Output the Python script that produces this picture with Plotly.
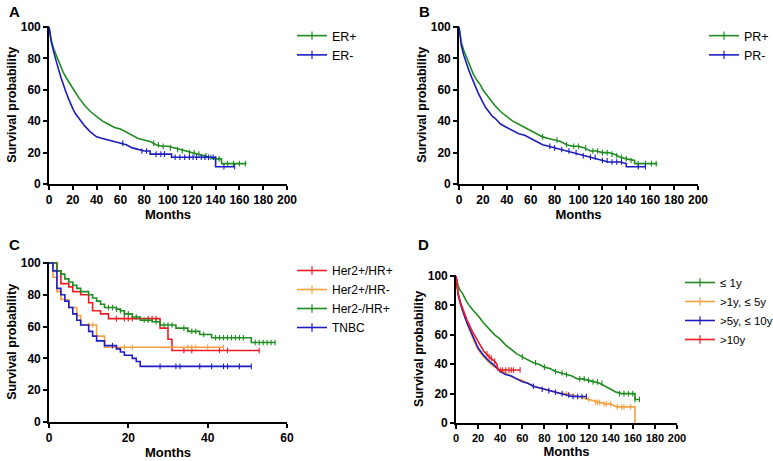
import plotly.graph_objects as go

# ---- Panel A: ER status ----
er_pos_t = [0, 2, 4, 6, 8, 10, 12, 15, 18, 20, 25, 30, 35, 40, 45, 50, 55, 60, 65, 70, 75, 80, 85, 90, 95,
            100, 105, 110, 115, 120, 125, 130, 135, 140, 145, 145, 150, 166]
er_pos_s = [100, 91, 86, 82, 78, 75, 71, 67, 63, 61, 55, 50, 46, 43, 40, 38, 36, 35, 33, 31, 29, 28, 27, 25, 24,
            24, 23, 22, 21, 20, 19, 18, 17, 16, 16, 13, 13, 13]
er_pos_ct = [88, 92, 96, 102, 108, 112, 118, 122, 126, 132, 136, 140, 143, 150, 155, 160, 165]
er_pos_cs = [26, 25, 24, 23, 22, 21, 20, 20, 19, 18, 17, 16, 16, 13, 13, 13, 13]

er_neg_t = [0, 2, 4, 6, 8, 10, 12, 14, 16, 18, 20, 22, 25, 28, 30, 35, 40, 45, 50, 55, 60, 65, 70, 75, 80,
            85, 85, 103, 103, 140, 140, 156]
er_neg_s = [100, 90, 84, 78, 73, 68, 63, 59, 55, 51, 48, 45, 42, 39, 37, 33, 30, 29, 28, 27, 26, 25, 23, 22, 21,
            21, 19, 19, 17, 17, 11, 11]
er_neg_ct = [62, 78, 82, 90, 94, 97, 106, 110, 114, 118, 121, 124, 128, 131, 134, 138, 147, 156]
er_neg_cs = [26, 21, 21, 19, 19, 19, 17, 17, 17, 17, 17, 17, 17, 17, 17, 17, 11, 11]

# ---- Panel B: PR status ----
pr_pos_t = [0, 2, 4, 6, 8, 10, 12, 15, 18, 20, 25, 30, 35, 40, 45, 50, 55, 60, 65, 70, 75, 80, 85, 90, 95,
            100, 105, 110, 115, 120, 125, 130, 135, 140, 145, 147, 147, 166]
pr_pos_s = [100, 90, 85, 81, 77, 73, 70, 66, 63, 60, 55, 50, 46, 43, 40, 38, 36, 34, 32, 30, 29, 28, 27, 25, 24,
            24, 23, 21, 21, 20, 20, 19, 17, 16, 15, 15, 13, 13]
pr_pos_ct = [70, 82, 90, 96, 100, 106, 112, 116, 120, 124, 128, 132, 136, 140, 144, 150, 156, 161, 165]
pr_pos_cs = [30, 28, 25, 24, 24, 23, 21, 21, 20, 20, 19, 18, 17, 16, 15, 13, 13, 13, 13]

pr_neg_t = [0, 2, 4, 6, 8, 10, 12, 14, 16, 18, 20, 22, 25, 28, 30, 35, 40, 45, 50, 55, 60, 65, 70, 75, 80,
            85, 90, 95, 100, 105, 110, 115, 120, 125, 130, 135, 140, 140, 156]
pr_neg_s = [100, 88, 82, 77, 73, 69, 65, 61, 58, 55, 52, 49, 46, 43, 42, 38, 36, 34, 32, 31, 29, 27, 25, 24, 23,
            22, 21, 20, 19, 18, 17, 16, 15, 14, 14, 14, 13, 11, 11]
pr_neg_ct = [76, 80, 86, 92, 98, 104, 110, 114, 120, 124, 128, 132, 136, 150, 156]
pr_neg_cs = [24, 23, 22, 21, 20, 18, 17, 17, 15, 15, 14, 14, 14, 11, 11]

# ---- Panel C: molecular subtypes (step curves) ----
her2p_hrp_t = [0, 2, 3, 5, 6, 8, 10, 11, 13, 15, 28, 30, 31, 53]
her2p_hrp_s = [100, 95, 87, 85, 82, 80, 75, 70, 68, 65, 59, 52, 45, 45]
her2p_hrp_ct = [17, 19, 20, 21, 25, 26, 27, 34, 36, 43, 45, 53]
her2p_hrp_cs = [65, 65, 65, 65, 65, 65, 65, 45, 45, 45, 45, 45]

her2p_hrn_t = [0, 1, 2, 3, 5, 7, 8, 12, 14, 44]
her2p_hrn_s = [100, 91, 82, 77, 72, 67, 61, 54, 47, 47]
her2p_hrn_ct = [10, 11, 19, 21, 35, 36, 37, 40, 44]
her2p_hrn_cs = [61, 61, 47, 47, 47, 47, 47, 47, 47]

her2n_hrp_t = [0, 2, 3, 4, 5, 6, 7, 8, 10, 11, 12, 13, 14, 17, 18, 19, 21, 23, 26, 28, 32, 35, 38, 41, 51, 57]
her2n_hrp_s = [100, 95, 93, 90, 88, 86, 84, 82, 80, 78, 76, 74, 72, 71, 70, 68, 66, 64, 63, 61, 59, 57, 55, 53,
               50, 50]
her2n_hrp_ct = [15, 16, 17, 18, 19, 20, 22, 24, 25, 27, 29, 30, 31, 34, 36, 37, 39, 42, 43, 44, 45, 46, 47, 48,
                49, 52, 53, 54, 55, 56, 57]
her2n_hrp_cs = [72, 72, 71, 70, 68, 68, 66, 64, 64, 63, 61, 61, 61, 59, 57, 57, 55, 53, 53, 53, 53, 53, 53, 53,
                53, 50, 50, 50, 50, 50, 50]

tnbc_t = [0, 1, 2, 3, 4, 5, 6, 7, 8, 10, 11, 12, 14, 17, 18, 19, 21, 22, 23, 51]
tnbc_s = [100, 95, 84, 80, 76, 72, 68, 64, 61, 57, 54, 51, 48, 46, 44, 42, 40, 38, 35, 35]
tnbc_ct = [16, 28, 32, 33, 38, 41, 44, 45, 48, 51]
tnbc_cs = [48, 35, 35, 35, 35, 35, 35, 35, 35, 35]

# ---- Panel D: time to metastasis ----
le1_t = [0, 2, 4, 6, 8, 10, 15, 20, 25, 30, 35, 40, 45, 50, 55, 60, 65, 70, 75, 80, 85, 90, 95, 100, 105, 110,
         115, 120, 125, 130, 135, 140, 145, 150, 155, 160, 162, 162, 166]
le1_s = [100, 93, 90, 88, 85, 82, 77, 73, 68, 64, 60, 57, 53, 50, 47, 45, 43, 41, 40, 38, 37, 35, 34, 33, 32, 30,
         30, 29, 28, 27, 25, 23, 21, 20, 20, 20, 20, 16, 16]
le1_ct = [60, 72, 80, 90, 96, 100, 112, 116, 120, 124, 128, 132, 148, 152, 156, 160, 162, 166]
le1_cs = [45, 41, 38, 35, 34, 33, 30, 30, 29, 28, 28, 27, 20, 20, 20, 20, 16, 16]

y1_5_t = [0, 2, 4, 6, 8, 10, 15, 20, 25, 30, 35, 40, 45, 50, 55, 60, 65, 70, 75, 80, 85, 90, 95, 100, 105, 110,
          115, 120, 125, 130, 135, 140, 145, 150, 155, 162, 162]
y1_5_s = [100, 88, 82, 77, 72, 68, 58, 50, 45, 41, 38, 36, 34, 32, 30, 29, 27, 25, 24, 23, 22, 21, 20, 20, 19, 18,
          17, 16, 15, 14, 13, 13, 11, 11, 11, 11, 0]
y1_5_ct = [100, 110, 120, 126, 128, 130, 134, 136, 140, 146, 150, 152, 158]
y1_5_cs = [20, 18, 16, 14, 14, 14, 13, 13, 13, 11, 11, 11, 11]

y5_10_t = [0, 2, 4, 6, 8, 10, 15, 20, 25, 30, 35, 40, 45, 50, 55, 60, 65, 70, 75, 80, 85, 90, 95, 100, 105, 118]
y5_10_s = [100, 87, 81, 76, 72, 68, 59, 51, 46, 42, 39, 35, 33, 32, 30, 28, 27, 25, 24, 23, 22, 21, 20, 19, 18, 18]
y5_10_ct = [70, 78, 84, 90, 96, 102, 106, 110, 114, 118]
y5_10_cs = [25, 23, 22, 21, 20, 19, 18, 18, 18, 18]

gt10_t = [0, 2, 4, 6, 8, 10, 15, 20, 25, 30, 35, 37, 38, 58]
gt10_s = [100, 88, 82, 78, 74, 70, 62, 55, 49, 45, 42, 40, 36, 36]
gt10_ct = [28, 30, 32, 35, 40, 42, 45, 48, 50, 52, 58]
gt10_cs = [47, 45, 44, 42, 36, 36, 36, 36, 36, 36, 36]

GREEN = "#1e8c1e"
BLUE = "#1c1cc0"
RED = "#ec1c24"
ORANGE = "#f7a040"
FONT = "Arial, Liberation Sans, sans-serif"

panels = [
    # (axis suffix, legend id, shape, curves)
    ("", "legend", "linear", [
        ("ER+", GREEN, er_pos_t, er_pos_s, er_pos_ct, er_pos_cs),
        ("ER-", BLUE, er_neg_t, er_neg_s, er_neg_ct, er_neg_cs),
    ]),
    ("2", "legend2", "linear", [
        ("PR+", GREEN, pr_pos_t, pr_pos_s, pr_pos_ct, pr_pos_cs),
        ("PR-", BLUE, pr_neg_t, pr_neg_s, pr_neg_ct, pr_neg_cs),
    ]),
    ("3", "legend3", "hv", [
        ("Her2+/HR+", RED, her2p_hrp_t, her2p_hrp_s, her2p_hrp_ct, her2p_hrp_cs),
        ("Her2+/HR-", ORANGE, her2p_hrn_t, her2p_hrn_s, her2p_hrn_ct, her2p_hrn_cs),
        ("Her2-/HR+", GREEN, her2n_hrp_t, her2n_hrp_s, her2n_hrp_ct, her2n_hrp_cs),
        ("TNBC", BLUE, tnbc_t, tnbc_s, tnbc_ct, tnbc_cs),
    ]),
    ("4", "legend4", "linear", [
        ("\u2264 1y", GREEN, le1_t, le1_s, le1_ct, le1_cs),
        (">1y, \u2264 5y", ORANGE, y1_5_t, y1_5_s, y1_5_ct, y1_5_cs),
        (">5y, \u2264 10y", BLUE, y5_10_t, y5_10_s, y5_10_ct, y5_10_cs),
        (">10y", RED, gt10_t, gt10_s, gt10_ct, gt10_cs),
    ]),
]

fig = go.Figure()

for suffix, leg, shape, curves in panels:
    xa, ya = "x" + suffix, "y" + suffix
    for name, color, t, s, ct, cs in curves:
        fig.add_trace(go.Scatter(
            x=t, y=s, mode="lines", line=dict(color=color, width=1.6, shape=shape),
            xaxis=xa, yaxis=ya, showlegend=False, hoverinfo="skip"))
        fig.add_trace(go.Scatter(
            x=ct, y=cs, mode="markers", xaxis=xa, yaxis=ya, showlegend=False,
            marker=dict(symbol="line-ns", size=4, line=dict(color=color, width=1.1)),
            cliponaxis=False))
        # legend entry: line with a censor tick
        fig.add_trace(go.Scatter(
            x=[None], y=[None], mode="lines+markers", name=name, legend=leg,
            xaxis=xa, yaxis=ya, line=dict(color=color, width=1.6),
            marker=dict(symbol="line-ns", size=6, line=dict(color=color, width=1.2))))

axis_common = dict(showline=True, linecolor="black", linewidth=1.6, ticks="outside", ticklen=4,
                   tickwidth=1.6, tickcolor="black", showgrid=False, zeroline=False, automargin=False,
                   tickangle=0, tickfont=dict(family=FONT, size=12, color="black", weight="bold"))

def xaxis(dom, rng, dtick, anchor, tsize=12):
    return dict(axis_common, domain=dom, range=rng, dtick=dtick, tick0=0, anchor=anchor,
                tickfont=dict(family=FONT, size=tsize, color="black", weight="bold"),
                title=dict(text="Months", standoff=4,
                           font=dict(family=FONT, size=13, color="black", weight="bold")))

def yaxis(dom, anchor):
    return dict(axis_common, domain=dom, range=[0, 100.8], tickvals=[0, 20, 40, 60, 80, 100], anchor=anchor,
                title=dict(text="Survival probability", standoff=1,
                           font=dict(family=FONT, size=12.5, color="black", weight="bold")))

W, H = 773, 461

def px_x(a, b):
    return [a / W, b / W]

def px_y(bottom, top):
    return [1 - bottom / H, 1 - top / H]

fig.update_layout(
    width=W, height=H, margin=dict(l=0, r=0, t=0, b=0, autoexpand=False),
    plot_bgcolor="white", paper_bgcolor="white",
    font=dict(family=FONT, color="black"),
    xaxis=xaxis(px_x(49, 287), [0, 200], 20, "y"),
    yaxis=yaxis(px_y(184, 25.7), "x"),
    xaxis2=xaxis(px_x(459, 698), [0, 200], 20, "y2"),
    yaxis2=yaxis(px_y(184, 25.7), "x2"),
    xaxis3=xaxis(px_x(49, 287), [0, 60], 20, "y3"),
    yaxis3=yaxis(px_y(422, 261.7), "x3"),
    xaxis4=xaxis(px_x(456, 677), [0, 200], 20, "y4", tsize=11),
    yaxis4=yaxis(px_y(423, 274.8), "x4"),
)

leg_common = dict(xanchor="left", yanchor="top", bgcolor="rgba(0,0,0,0)", itemwidth=30,
                  font=dict(family=FONT, size=12.5, color="black"))
fig.update_layout(
    legend=dict(leg_common, x=292 / W, y=1 - 21 / H),
    legend2=dict(leg_common, x=704 / W, y=1 - 21 / H),
    legend3=dict(leg_common, x=292 / W, y=1 - 256 / H, font=dict(family=FONT, size=12, color="black")),
    legend4=dict(leg_common, x=680 / W, y=1 - 268 / H, font=dict(family=FONT, size=11.5, color="black")),
)

for label, x, y in [("A", 7, 1), ("B", 417, 1), ("C", 7, 234), ("D", 416, 234)]:
    fig.add_annotation(text=label, x=x / W, y=1 - y / H, xref="paper", yref="paper",
                       xanchor="left", yanchor="top", showarrow=False,
                       font=dict(family=FONT, size=15, color="black", weight="bold"))

# page body has a default 8px margin; drop it so the figure sits at the window's corner
fig.write_html("out.html", config={"displayModeBar": False},
               post_script="document.body.style.margin = '0';")
